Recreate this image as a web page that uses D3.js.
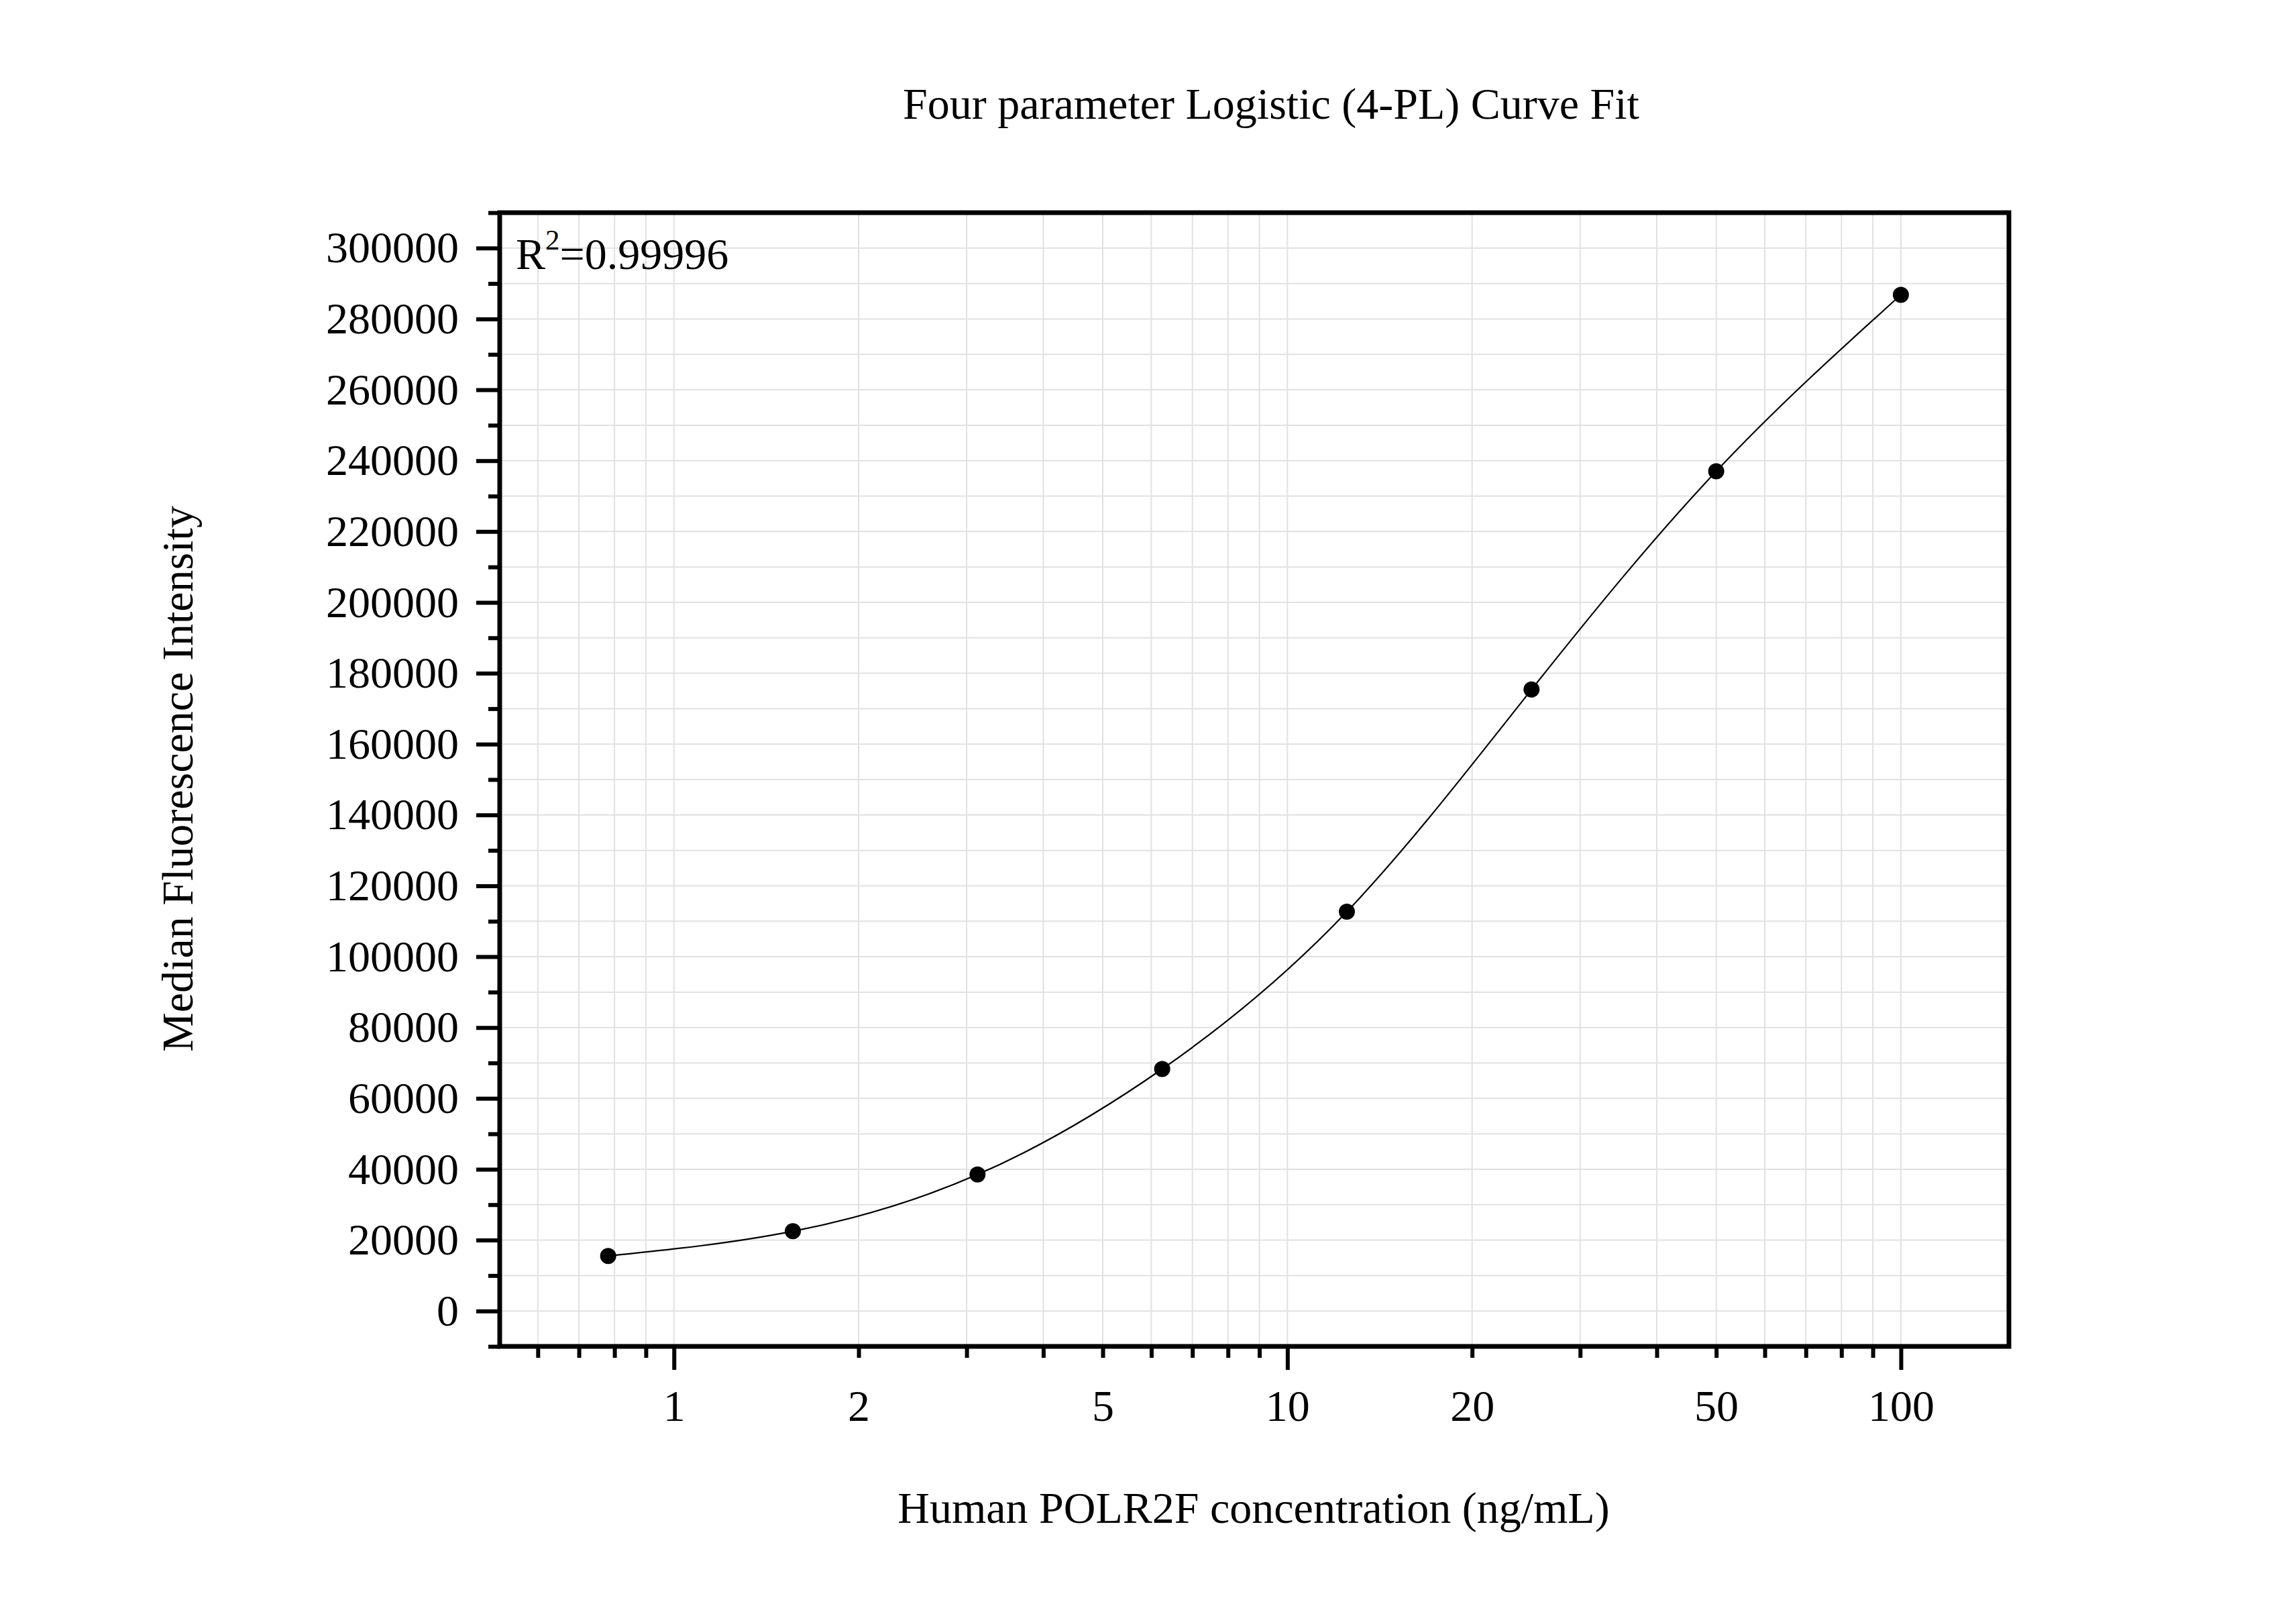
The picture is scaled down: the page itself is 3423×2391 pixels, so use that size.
<!DOCTYPE html>
<html lang="en">
    <head>
        <meta charset="utf-8">
        <title>4-PL Curve Fit</title>
        <script type="text/javascript" src="https://cdn.jsdelivr.net/npm/d3@7"></script>
        <style>
            body { margin: 0; background: #fff; }
            text { font-family: "Liberation Serif", "Times New Roman", serif; fill: #000; }
        </style>
    </head>
    <body>
        <script type="text/javascript">
            // standards: concentration (ng/mL) and median fluorescence intensity
            var concentration = [0.78125, 1.5625, 3.125, 6.25, 12.5, 25, 50, 100];
            var mfi = [15500, 22500, 38500, 68300, 112700, 175400, 237000, 286800];

            var xLabels = [1, 2, 5, 10, 20, 50, 100];
            var xMajor = [1, 10, 100];
            var xMinor = [0.6, 0.7, 0.8, 0.9, 2, 3, 4, 5, 6, 7, 8, 9,
                          20, 30, 40, 50, 60, 70, 80, 90];
            var yTicks = [0, 20000, 40000, 60000, 80000, 100000, 120000, 140000,
                          160000, 180000, 200000, 220000, 240000, 260000, 280000, 300000];
            var yMinor = [-10000, 10000, 30000, 50000, 70000, 90000, 110000, 130000,
                          150000, 170000, 190000, 210000, 230000, 250000, 270000,
                          290000, 310000];

            var w = 3423;
            var h = 2391;
            // plot box (note: "top" is taken by window.top, so prefix them)
            var pLeft = 745, pRight = 2995, pTop = 317, pBottom = 2007;

            var svg = d3.select("body").append("svg")
                .attr("width", w)
                .attr("height", h);

            svg.append("rect")
               .attr("width", w).attr("height", h)
               .attr("fill", "#fff");

            var x = d3.scaleLog().domain([0.52, 150]).range([pLeft, pRight]);
            var y = d3.scaleLinear().domain([-10000, 310000]).range([pBottom, pTop]);

            // grid lines
            var grid = svg.append("g").attr("stroke", "#e1e1e1").attr("stroke-width", 2);
            grid.selectAll("line.gx")
                .data(xMajor.concat(xMinor))
                .enter().append("line")
                .attr("x1", function(d) { return x(d); })
                .attr("x2", function(d) { return x(d); })
                .attr("y1", pTop).attr("y2", pBottom);
            grid.selectAll("line.gy")
                .data(yTicks.concat(yMinor.filter(function(d) { return d > 0 && d < 310000; })))
                .enter().append("line")
                .attr("y1", function(d) { return y(d); })
                .attr("y2", function(d) { return y(d); })
                .attr("x1", pLeft).attr("x2", pRight);

            // y axis: labelled major ticks and short minor ticks
            svg.append("g")
                .attr("transform", "translate(" + pLeft + ",0)")
                .call(d3.axisLeft(y).tickValues(yTicks).tickSize(35)
                      .tickPadding(26).tickFormat(d3.format("d")));
            svg.append("g")
                .attr("transform", "translate(" + pLeft + ",0)")
                .call(d3.axisLeft(y).tickValues(yMinor).tickSize(17).tickFormat(""));

            // x axis: labels, long major ticks, short minor ticks
            svg.append("g")
                .attr("transform", "translate(0," + pBottom + ")")
                .call(d3.axisBottom(x).tickValues(xLabels).tickSize(0)
                      .tickPadding(64).tickFormat(d3.format("d")));
            svg.append("g")
                .attr("transform", "translate(0," + pBottom + ")")
                .call(d3.axisBottom(x).tickValues(xMajor).tickSize(35).tickFormat(""));
            svg.append("g")
                .attr("transform", "translate(0," + pBottom + ")")
                .call(d3.axisBottom(x).tickValues(xMinor).tickSize(17).tickFormat(""));

            svg.selectAll(".domain").remove();
            svg.selectAll(".tick line").attr("stroke", "#000").attr("stroke-width", 6);
            svg.selectAll(".tick text")
               .attr("font-family", "Liberation Serif")
               .attr("font-size", "66px")
               .attr("fill", "#000");

            // frame
            svg.append("rect")
               .attr("x", pLeft).attr("y", pTop)
               .attr("width", pRight - pLeft).attr("height", pBottom - pTop)
               .attr("fill", "none")
               .attr("stroke", "#000")
               .attr("stroke-width", 7);

            // fitted curve through the standards
            var points = concentration.map(function(c, i) { return [c, mfi[i]]; });
            var line = d3.line()
                .x(function(d) { return x(d[0]); })
                .y(function(d) { return y(d[1]); })
                .curve(d3.curveNatural);
            svg.append("path")
               .datum(points)
               .attr("d", line)
               .attr("fill", "none")
               .attr("stroke", "#000")
               .attr("stroke-width", 2.2);

            svg.selectAll("circle")
               .data(points)
               .enter()
               .append("circle")
               .attr("cx", function(d) { return x(d[0]); })
               .attr("cy", function(d) { return y(d[1]); })
               .attr("r", 12)
               .attr("fill", "#000");

            // R squared
            var r2 = svg.append("text")
                .attr("x", 769).attr("y", 401)
                .attr("font-size", "66px");
            r2.append("tspan").text("R");
            r2.append("tspan").attr("font-size", "43px").attr("dy", -29).text("2");
            r2.append("tspan").attr("dy", 29).text("=0.99996");

            // titles
            svg.append("text")
               .attr("x", 1895).attr("y", 177)
               .attr("text-anchor", "middle")
               .attr("font-size", "66px")
               .text("Four parameter Logistic (4-PL) Curve Fit");

            svg.append("text")
               .attr("x", 1869).attr("y", 2270)
               .attr("text-anchor", "middle")
               .attr("font-size", "66px")
               .text("Human POLR2F concentration (ng/mL)");

            svg.append("text")
               .attr("transform", "translate(287,1161) rotate(-90)")
               .attr("text-anchor", "middle")
               .attr("font-size", "66px")
               .text("Median Fluorescence Intensity");
        </script>
    </body>
</html>
